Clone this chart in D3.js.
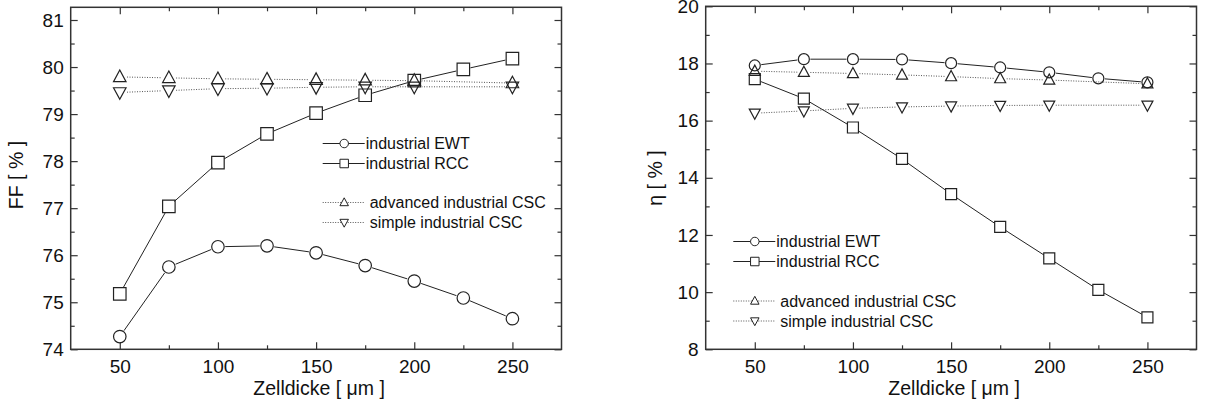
<!DOCTYPE html>
<html>
<head>
<meta charset="utf-8">
<script src="https://cdn.jsdelivr.net/npm/d3@7"></script>
<style>
  body { margin: 0; background: #fff; }
  text { font-family: "Liberation Sans", Arial, Helvetica, sans-serif; fill: #111; }
</style>
</head>
<body>
<div id="chart"></div>
<script>
// cell thickness values (x axis)
var thickness = [50, 75, 100, 125, 150, 175, 200, 225, 250];
var cscThickness = [50, 75, 100, 125, 150, 175, 200, 250];

// fill factor FF [%]
var ffEWT = [74.27, 75.75, 76.18, 76.2, 76.05, 75.78, 75.45, 75.09, 74.65];
var ffRCC = [75.18, 77.04, 77.97, 78.58, 79.02, 79.4, 79.71, 79.95, 80.18];
var ffAdvCSC = [79.79, 79.77, 79.75, 79.74, 79.73, 79.72, 79.71, 79.66];
var ffSimpleCSC = [79.46, 79.5, 79.54, 79.55, 79.57, 79.58, 79.58, 79.58];

// efficiency eta [%]
var etaEWT = [17.93, 18.15, 18.15, 18.14, 18.01, 17.86, 17.69, 17.48, 17.34];
var etaRCC = [17.45, 16.77, 15.76, 14.66, 13.43, 12.28, 11.18, 10.08, 9.12];
var etaAdvCSC = [17.73, 17.69, 17.65, 17.6, 17.54, 17.47, 17.42, 17.29];
var etaSimpleCSC = [16.26, 16.34, 16.43, 16.48, 16.51, 16.53, 16.54, 16.54];

// tick labels
var xTicks = [50, 100, 150, 200, 250];
var ffTicks = [74, 75, 76, 77, 78, 79, 80, 81];
var etaTicks = [8, 10, 12, 14, 16, 18, 20];

var legendLabels = ["industrial EWT", "industrial RCC", "advanced industrial CSC", "simple industrial CSC"];
var markerTypes = ["circle", "square", "up", "down"];

var svg = d3.select("#chart")
  .append("svg")
  .attr("width", 1213)
  .attr("height", 408);

var panels = [
  {
    left: 70.7, right: 561.5, top: 7.3, bottom: 349.3,
    yDomain: [74, 81.27], yTicks: ffTicks, yMinorStep: 0.5,
    yTitle: "FF [ % ]", yTitleX: 23, yTitleY: 175,
    series: [ffEWT, ffRCC, ffAdvCSC, ffSimpleCSC],
    markSize: 12.5,
    legendX: 322.7, legendRows: [143.5, 163.5, 202.5, 222.5]
  },
  {
    left: 705.7, right: 1196.5, top: 6.3, bottom: 349.3,
    yDomain: [8, 20], yTicks: etaTicks, yMinorStep: 1,
    yTitle: "\u03b7 [ % ]", yTitleX: 662, yTitleY: 178,
    series: [etaEWT, etaRCC, etaAdvCSC, etaSimpleCSC],
    markSize: 11,
    legendX: 733.3, legendRows: [241.5, 261.5, 301, 321]
  }
];

// marker path centred on 0,0
function markerPath(type, s) {
  var h = s / 2;
  if (type === "circle") {
    return d3.arc()({innerRadius: 0, outerRadius: h, startAngle: 0, endAngle: 2 * Math.PI});
  }
  if (type === "square") {
    return `M${-h},${-h}H${h}V${h}H${-h}Z`;
  }
  if (type === "up") {
    return `M0,${-h * 1.1}L${h},${h * 0.75}L${-h},${h * 0.75}Z`;
  }
  return `M0,${h * 1.1}L${h},${-h * 0.75}L${-h},${-h * 0.75}Z`;
}

function drawPanel(p) {
  var g = svg.append("g");

  var x = d3.scaleLinear().domain([25, 275]).range([p.left, p.right]);
  var y = d3.scaleLinear().domain(p.yDomain).range([p.bottom, p.top]);

  var xMinor = d3.range(50, 251, 25).filter(v => xTicks.indexOf(v) < 0);
  var yMinor = d3.range(p.yDomain[0], p.yDomain[1], p.yMinorStep)
    .filter(v => p.yTicks.indexOf(v) < 0);

  // bottom axis with labels
  var bottom = g.append("g")
    .attr("transform", `translate(0,${p.bottom})`)
    .call(d3.axisBottom(x).tickValues(xTicks).tickSize(-7).tickPadding(10));
  var bottomMinor = g.append("g")
    .attr("transform", `translate(0,${p.bottom})`)
    .call(d3.axisBottom(x).tickValues(xMinor).tickSize(-4).tickFormat(""));
  var top = g.append("g")
    .attr("transform", `translate(0,${p.top})`)
    .call(d3.axisTop(x).tickValues(xTicks).tickSize(-7).tickFormat(""));
  var topMinor = g.append("g")
    .attr("transform", `translate(0,${p.top})`)
    .call(d3.axisTop(x).tickValues(xMinor).tickSize(-4).tickFormat(""));

  var leftAx = g.append("g")
    .attr("transform", `translate(${p.left},0)`)
    .call(d3.axisLeft(y).tickValues(p.yTicks).tickSize(-7).tickPadding(7).tickFormat(d3.format("d")));
  var leftMinor = g.append("g")
    .attr("transform", `translate(${p.left},0)`)
    .call(d3.axisLeft(y).tickValues(yMinor).tickSize(-4).tickFormat(""));
  var rightAx = g.append("g")
    .attr("transform", `translate(${p.right},0)`)
    .call(d3.axisRight(y).tickValues(p.yTicks).tickSize(-7).tickFormat(""));
  var rightMinor = g.append("g")
    .attr("transform", `translate(${p.right},0)`)
    .call(d3.axisRight(y).tickValues(yMinor).tickSize(-4).tickFormat(""));

  [bottom, bottomMinor, top, topMinor, leftAx, leftMinor, rightAx, rightMinor].forEach(function(a) {
    a.select(".domain").remove();
    a.selectAll("line").attr("stroke", "#333").attr("stroke-width", 1.2);
    a.selectAll("text")
      .attr("font-size", "19px")
      .attr("fill", "#111")
      .style("font-family", "'Liberation Sans', Arial, sans-serif");
  });

  // frame
  g.append("rect")
    .attr("x", p.left).attr("y", p.top)
    .attr("width", p.right - p.left).attr("height", p.bottom - p.top)
    .attr("fill", "none").attr("stroke", "#333").attr("stroke-width", 1.5);

  // axis titles
  g.append("text")
    .attr("x", (p.left + p.right) / 2 + 3)
    .attr("y", 395)
    .attr("text-anchor", "middle")
    .attr("font-size", "19.5px")
    .text("Zelldicke [ \u03bcm ]");

  g.append("text")
    .attr("transform", `translate(${p.yTitleX},${p.yTitleY}) rotate(-90)`)
    .attr("text-anchor", "middle")
    .attr("font-size", "19.5px")
    .text(p.yTitle);

  // series: lines cut short at the hollow markers, then markers
  p.series.forEach(function(vals, i) {
    var xs = vals.length === thickness.length ? thickness : cscThickness;
    var pts = vals.map((v, j) => [x(xs[j]), y(v)]);
    var dotted = i >= 2;
    var gap = p.markSize / 2 + 1;
    var segs = d3.pairs(pts).map(function(pr) {
      var dx = pr[1][0] - pr[0][0], dy = pr[1][1] - pr[0][1];
      var len = Math.sqrt(dx * dx + dy * dy);
      var ux = dx / len, uy = dy / len;
      return [pr[0][0] + ux * gap, pr[0][1] + uy * gap, pr[1][0] - ux * gap, pr[1][1] - uy * gap];
    });
    g.selectAll(null)
      .data(segs)
      .enter()
      .append("line")
      .attr("x1", d => d[0]).attr("y1", d => d[1])
      .attr("x2", d => d[2]).attr("y2", d => d[3])
      .attr("stroke", dotted ? "#555" : "#222")
      .attr("stroke-width", 1)
      .attr("stroke-dasharray", dotted ? "1,1.5" : null);

    g.selectAll(null)
      .data(pts)
      .enter()
      .append("path")
      .attr("transform", d => `translate(${d[0]},${d[1]})`)
      .attr("d", markerPath(markerTypes[i], p.markSize))
      .attr("fill", "none")
      .attr("stroke", "#222")
      .attr("stroke-width", 1.2);
  });

  // legend
  legendLabels.forEach(function(lab, i) {
    var ly = p.legendRows[i];
    var dotted = i >= 2;
    var lx = p.legendX;
    g.append("line")
      .attr("x1", lx).attr("x2", lx + 42)
      .attr("y1", ly).attr("y2", ly)
      .attr("stroke", dotted ? "#555" : "#222")
      .attr("stroke-width", 1)
      .attr("stroke-dasharray", dotted ? "1,1.5" : null);
    g.append("path")
      .attr("transform", `translate(${lx + 21.5},${ly})`)
      .attr("d", markerPath(markerTypes[i], 8.5))
      .attr("fill", "#fff")
      .attr("stroke", "#222")
      .attr("stroke-width", 1);
    g.append("text")
      .attr("x", lx + (dotted ? 47 : 43))
      .attr("y", ly)
      .attr("dy", "0.36em")
      .attr("font-size", "16px")
      .text(lab);
  });
}

panels.forEach(drawPanel);
</script>
</body>
</html>
